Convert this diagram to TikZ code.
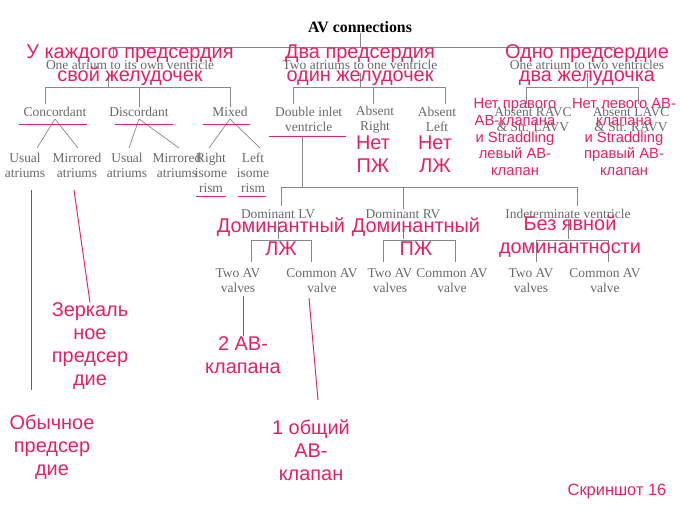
\documentclass[tikz,border=0pt]{standalone}
\usepackage{fontspec}
\setmainfont{Liberation Serif}
\newfontfamily\notefont{Liberation Sans}
\usetikzlibrary{positioning,calc}
\definecolor{notered}{RGB}{232,32,96}
\definecolor{treegray}{RGB}{105,105,105}
\tikzset{
    tree/.style ={inner sep=0pt, align=center, text=treegray, font=\fontsize{11.5}{13}\selectfont},
    branch/.style = {draw=treegray!80, semithick},
    note/.style = {inner sep=0pt, align=center, text=notered, font=\notefont\fontsize{17}{19.5}\selectfont},
    smallnote/.style = {note, font=\notefont\fontsize{12.6}{14.5}\selectfont},
    redline/.style = {draw=notered, thick}
}
\begin{document}
\begin{tikzpicture}[x=0.03cm,y=-0.03cm]
\useasboundingbox[fill=white] (0,0) rectangle (680,510);
% printed tree
\node[tree, text=black, font=\bfseries\fontsize{13.5}{15}\selectfont] (av) at (360,27) {AV connections};
\node[tree] (own) at (130,65) {One atrium to its own ventricle};
\node[tree] (two) at (360,65) {Two atriums to one ventricle};
\node[tree] (one) at (587,65) {One atrium to two ventricles};
\draw[branch] (av.south) -- (360,47);
\draw[branch] (113,58) |- (614,47) -- (614,58);

\node[tree] (conc) at (55,112) {Concordant};
\node[tree] (disc) at (139,112) {Discordant};
\node[tree] (mix) at (230,112) {Mixed};
\draw[branch] (45,104) |- (230,87) -- (mix.north);
\draw[branch] (108,73) -- (108,87);
\draw[branch] (139,87) -- (disc.north);

\node[tree, anchor=west] (dil) at (275,119.5) {Double inlet\\ventricle};
\node[tree] (absr) at (375,119.5) {Absent\\Right};
\node[tree] (absl) at (437,119.5) {Absent\\Left};
\draw[branch] (293,104) |- (445,87) -- (445,104);
\draw[branch] (360,73) -- (360,87);
\draw[branch] (373,87) -- (373,104);

\node[tree] (ravc) at (533,119.5) {Absent RAVC\\\& Str. LAVV};
\node[tree] (lavc) at (631,119.5) {Absent LAVC\\\& Str. RAVV};
\draw[branch] (526,104) |- (638,87) -- (638,104);
\draw[branch] (587,73) -- (587,87);

\node[tree] (us1) at (25,165.5) {Usual\\atriums};
\node[tree] (mi1) at (77,165.5) {Mirrored\\atriums};
\node[tree] (us2) at (127,165.5) {Usual\\atriums};
\node[tree] (mi2) at (177,165.5) {Mirrored\\atriums};
\node[tree] (riso) at (211,173) {Right\\isome\\rism};
\node[tree] (liso) at (253,173) {Left\\isome\\rism};
\foreach \p/\a/\b in {conc/37/78, disc/129/179, mix/209/260}
  \draw[branch] (\p.south) ++(0,2) -- (\a,148) (\p.south) ++(0,2) -- (\b,148);

\node[tree] (dlv) at (278,214) {Dominant LV};
\node[tree] (drv) at (403,214) {Dominant RV};
\node[tree] (ind) at (568,214) {Indeterminate ventricle};
\draw[branch] (302,137) -- (302,187);
\draw[branch] (281,206) |- (577,187) -- (577,206);
\draw[branch] (403,187) -- (drv.north);

\node[tree] (tw1) at (238,280.5) {Two AV\\valves};
\node[tree] (co1) at (322,280.5) {Common AV\\valve};
\node[tree] (tw2) at (390,280.5) {Two AV\\valves};
\node[tree] (co2) at (452,280.5) {Common AV\\valve};
\node[tree] (tw3) at (531,280.5) {Two AV\\valves};
\node[tree] (co3) at (605,280.5) {Common AV\\valve};
\foreach \p/\a/\b in {dlv/251/311, drv/383/455, ind/536/608}
  \draw[branch] (\p.south) ++(0,2) -- ++(0,18) (\a,262) |- (\b,240) -- (\b,262);

% red notes
\node[note] (n1) at (130,65) {У каждого предсердия\\свой желудочек};
\node[note] (n2) at (360,65) {Два предсердия\\один желудочек};
\node[note] (n3) at (587,65) {Одно предсердие\\два желудочка};
\node[smallnote] (n4) at (515,137) {Нет правого\\АВ-клапана\\и Straddling\\левый АВ-\\клапан};
\node[smallnote] (n5) at (624,137) {Нет левого АВ-\\клапана\\и Straddling\\правый АВ-\\клапан};
\node[note, font=\notefont\fontsize{17}{20}\selectfont] (n6) at (373,154) {Нет\\ПЖ};
\node[note, font=\notefont\fontsize{17}{20}\selectfont] (n7) at (435,154) {Нет\\ЛЖ};
\node[note] (n8) at (281,237) {Доминантный\\ЛЖ};
\node[note] (n9) at (416,237) {Доминантный\\ПЖ};
\node[note] (n10) at (570,237) {Без явной\\доминантности};
\node[note] (mirr) at (90,346) {Зеркаль\\ное\\предсер\\дие};
\node[note] (usual) at (52,447) {Обычное\\предсер\\дие};
\node[note] (twoav) at (243,355) {2 АВ-\\клапана};
\node[note] (comav) at (311,450) {1 общий\\АВ-\\клапан};
\node[note, font=\notefont\fontsize{14}{16}\selectfont] (shot) at (617,491) {Скриншот 16};

\draw[redline] (19,124) -- (87,124) (115,124) -- (173,124) (203,124) -- (250,124);
\draw[redline] (269,136) -- (346,136) (196,196) -- (226,196) (238,196) -- (266,196);
\draw[redline] (31,190) -- (31,390);
\draw[redline] (74,190) -- (mirr.north);
\draw[redline] (243,296) -- (twoav.north);
\draw[redline] (309,298) -- (318,400);
\end{tikzpicture}
\end{document}
